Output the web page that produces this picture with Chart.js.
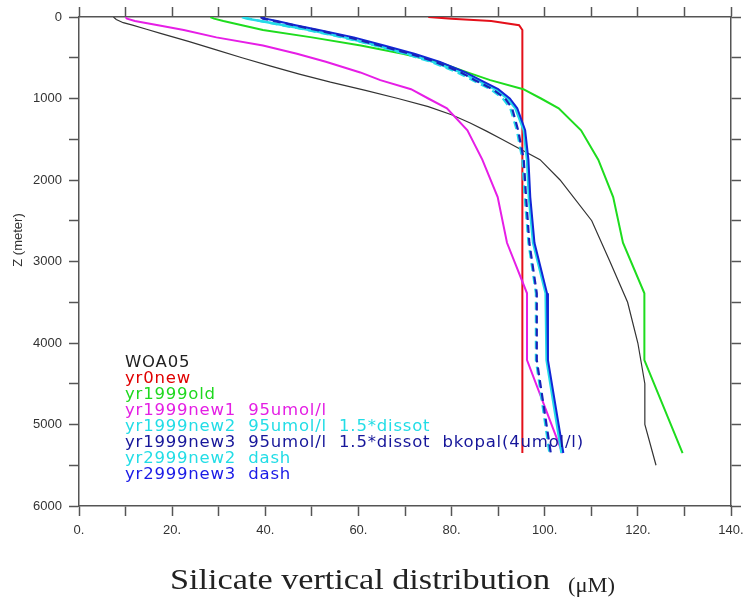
<!DOCTYPE html>
<html>
<head>
<meta charset="utf-8">
<script src="https://cdn.jsdelivr.net/npm/chart.js@4.4.1/dist/chart.umd.min.js"></script>
<style>
  html, body { margin: 0; padding: 0; background: #fff; }
  canvas { display: block; }
</style>
</head>
<body>
<canvas id="silChart" width="747" height="605"></canvas>
<script>
// observed climatology (WOA05 standard levels)
const woaDepth = [0, 30, 70, 100, 150, 200, 250, 300, 400, 500, 600, 700, 800, 900, 1000,
  1100, 1200, 1300, 1400, 1500, 1750, 2000, 2500, 3000, 3500, 4000, 4500, 5000, 5500];
const woa05 = [7.4, 8.0, 9.5, 11.5, 14.5, 17.5, 20.5, 23.5, 29.3, 35, 41, 47.3, 54, 61.5, 68.5,
  75, 80, 84, 87.5, 90.8, 99, 103.3, 110.1, 114, 117.8, 120, 121.5, 121.5, 123.9];

// model runs share the same level depths
const modelDepth = [0, 20, 50, 100, 160, 250, 350, 450, 550, 680, 775, 886, 1000, 1120,
  1390, 1750, 2210, 2770, 3390, 4210, 5350];
const yr0new = [75, 80, 88.5, 94.5, 95.2, 95.2, 95.2, 95.2, 95.2, 95.2, 95.2, 95.2, 95.2, 95.2,
  95.2, 95.2, 95.2, 95.2, 95.2, 95.2, 95.2];
const yr1999old = [28.2, 29, 31, 35, 39.5, 50, 60.5, 69.5, 77, 83.4, 88.3, 95.4, 99.2, 103,
  107.8, 111.5, 114.7, 116.8, 121.4, 121.4, 129.6];
const yr1999new1 = [10, 10.3, 12, 17, 22.5, 29.5, 39.5, 46.8, 53, 60.4, 64.7, 71.3, 75, 79,
  83.4, 86.6, 89.9, 91.9, 96.2, 96.2, 103.8];
const yr1999new2 = [35, 36, 39, 44, 49.5, 57, 64, 70.5, 76, 82, 85.5, 89.3, 92, 93.7,
  95.5, 96.2, 96.6, 97.5, 100.2, 100.4, 103.6];
const yr1999new3 = [39.6, 40, 42.5, 46.5, 51.5, 59, 65.5, 72, 77.5, 83, 86.2, 90, 92.5, 94.1,
  95.8, 96.5, 96.9, 97.8, 100.5, 100.7, 104];
const yr2999new2 = [35.5, 36.5, 39, 43.5, 49, 56.5, 63.5, 70, 75.5, 81.2, 84.5, 88.3, 91, 92.6,
  94, 95.2, 95.7, 96.5, 98.1, 98.1, 101];
const yr2999new3 = [39, 39.5, 42, 46, 51, 58, 64.5, 71, 76.5, 82, 85, 88.8, 91.5, 93,
  94.3, 95.5, 96, 96.7, 98.3, 98.3, 101.3];

const legendLabels = [
  'WOA05',
  'yr0new',
  'yr1999old',
  'yr1999new1  95umol/l',
  'yr1999new2  95umol/l  1.5*dissot',
  'yr1999new3  95umol/l  1.5*dissot  bkopal(4umol/l)',
  'yr2999new2  dash',
  'yr2999new3  dash'
];
const legendColors = ['#222222', '#e00000', '#1ed81e', '#e41ee4', '#22dde6', '#16169a', '#22dde6', '#1a1ae6'];

const xTickStep = 10;
const yTickStep = 500;

function pairs(xs, depths) {
  return xs.map((v, i) => ({ x: v, y: depths[i] }));
}

function series(label, xs, depths, color, width, dash) {
  return {
    label,
    data: pairs(xs, depths),
    showLine: true,
    borderColor: color,
    borderWidth: width,
    borderDash: dash || [],
    pointRadius: 0,
    tension: 0,
    fill: false
  };
}

const datasets = [
  series('WOA05', woa05, woaDepth, '#333333', 1.2),
  series('yr0new', yr0new, modelDepth, '#e4101a', 2),
  series('yr1999old', yr1999old, modelDepth, '#1edc1e', 2),
  series('yr1999new1', yr1999new1, modelDepth, '#e61ee6', 2),
  series('yr1999new2', yr1999new2, modelDepth, '#24dbe8', 2.5),
  series('yr1999new3', yr1999new3, modelDepth, '#1226d6', 2),
  series('yr2999new2', yr2999new2, modelDepth, '#24dbe8', 2.2, [8, 5]),
  series('yr2999new3', yr2999new3, modelDepth, '#1a22b8', 2.2, [8, 5])
];
// later runs sit on top
datasets.forEach((d, i) => { d.order = datasets.length - 1 - i; });

const axisColor = '#555555';
const tickFont = { family: 'Liberation Sans', size: 13 };

// fixed box sizes so the plot frame does not move with label widths
function fixSize(prop, size) {
  return s => {
    s[prop] = size;
    s.paddingLeft = 0;
    s.paddingRight = 0;
    s.paddingTop = 0;
    s.paddingBottom = 0;
  };
}

function frameAxis(extra) {
  return Object.assign({
    type: 'linear',
    border: { display: true, color: axisColor, width: 1.5 },
    grid: {
      drawOnChartArea: false,
      drawTicks: true,
      tickLength: 10,
      tickColor: axisColor,
      tickWidth: 1.5
    }
  }, extra);
}

// text that is not part of any scale: legend block, depth title, x caption
const annotations = {
  id: 'annotations',
  afterDraw(chart) {
    const c = chart.ctx;
    c.save();

    c.font = '16.5px "DejaVu Sans"';
    c.letterSpacing = '0.8px';
    c.textBaseline = 'middle';
    c.textAlign = 'left';
    legendLabels.forEach((t, i) => {
      c.fillStyle = legendColors[i];
      c.fillText(t, 125, 362.5 + i * 16);
    });
    c.letterSpacing = '0px';

    c.save();
    c.translate(18, 240);
    c.rotate(-Math.PI / 2);
    c.font = '13px "Liberation Sans"';
    c.fillStyle = '#333';
    c.textAlign = 'center';
    c.fillText('Z (meter)', 0, 0);
    c.restore();

    c.fillStyle = '#222';
    c.textBaseline = 'alphabetic';
    c.font = '30px "Liberation Serif"';
    const main = 'Silicate vertical distribution';
    const w = c.measureText(main).width;
    c.save();
    c.translate(170, 589);
    c.scale(380 / w, 1);
    c.fillText(main, 0, 0);
    c.restore();

    c.font = '21px "Liberation Serif"';
    const unit = '(\u03bcM)';
    const uw = c.measureText(unit).width;
    c.save();
    c.translate(568, 592);
    c.scale(47 / uw, 1);
    c.fillText(unit, 0, 0);
    c.restore();

    c.restore();
  }
};

new Chart(document.getElementById('silChart').getContext('2d'), {
  type: 'scatter',
  data: { datasets },
  options: {
    responsive: false,
    animation: false,
    devicePixelRatio: 1,
    layout: { padding: 0 },
    plugins: {
      legend: { display: false },
      tooltip: { enabled: false }
    },
    scales: {
      x: frameAxis({
        position: 'bottom',
        min: 0,
        max: 140,
        afterFit: fixSize('height', 99),
        ticks: {
          stepSize: xTickStep,
          autoSkip: false,
          maxRotation: 0,
          padding: 7,
          color: '#333',
          font: tickFont,
          callback: v => (v % 20 === 0 ? v + '.' : '')
        }
      }),
      xTop: frameAxis({
        axis: 'x',
        position: 'top',
        min: 0,
        max: 140,
        afterFit: fixSize('height', 17),
        ticks: { stepSize: xTickStep, display: false }
      }),
      y: frameAxis({
        position: 'left',
        reverse: true,
        min: 0,
        max: 6000,
        afterFit: fixSize('width', 79),
        ticks: {
          stepSize: yTickStep,
          autoSkip: false,
          padding: 7,
          color: '#333',
          font: tickFont,
          callback: v => (v % 1000 === 0 ? String(v) : '')
        }
      }),
      yRight: frameAxis({
        axis: 'y',
        position: 'right',
        reverse: true,
        min: 0,
        max: 6000,
        afterFit: fixSize('width', 16),
        ticks: { stepSize: yTickStep, display: false }
      })
    }
  },
  plugins: [annotations]
});
</script>
</body>
</html>
